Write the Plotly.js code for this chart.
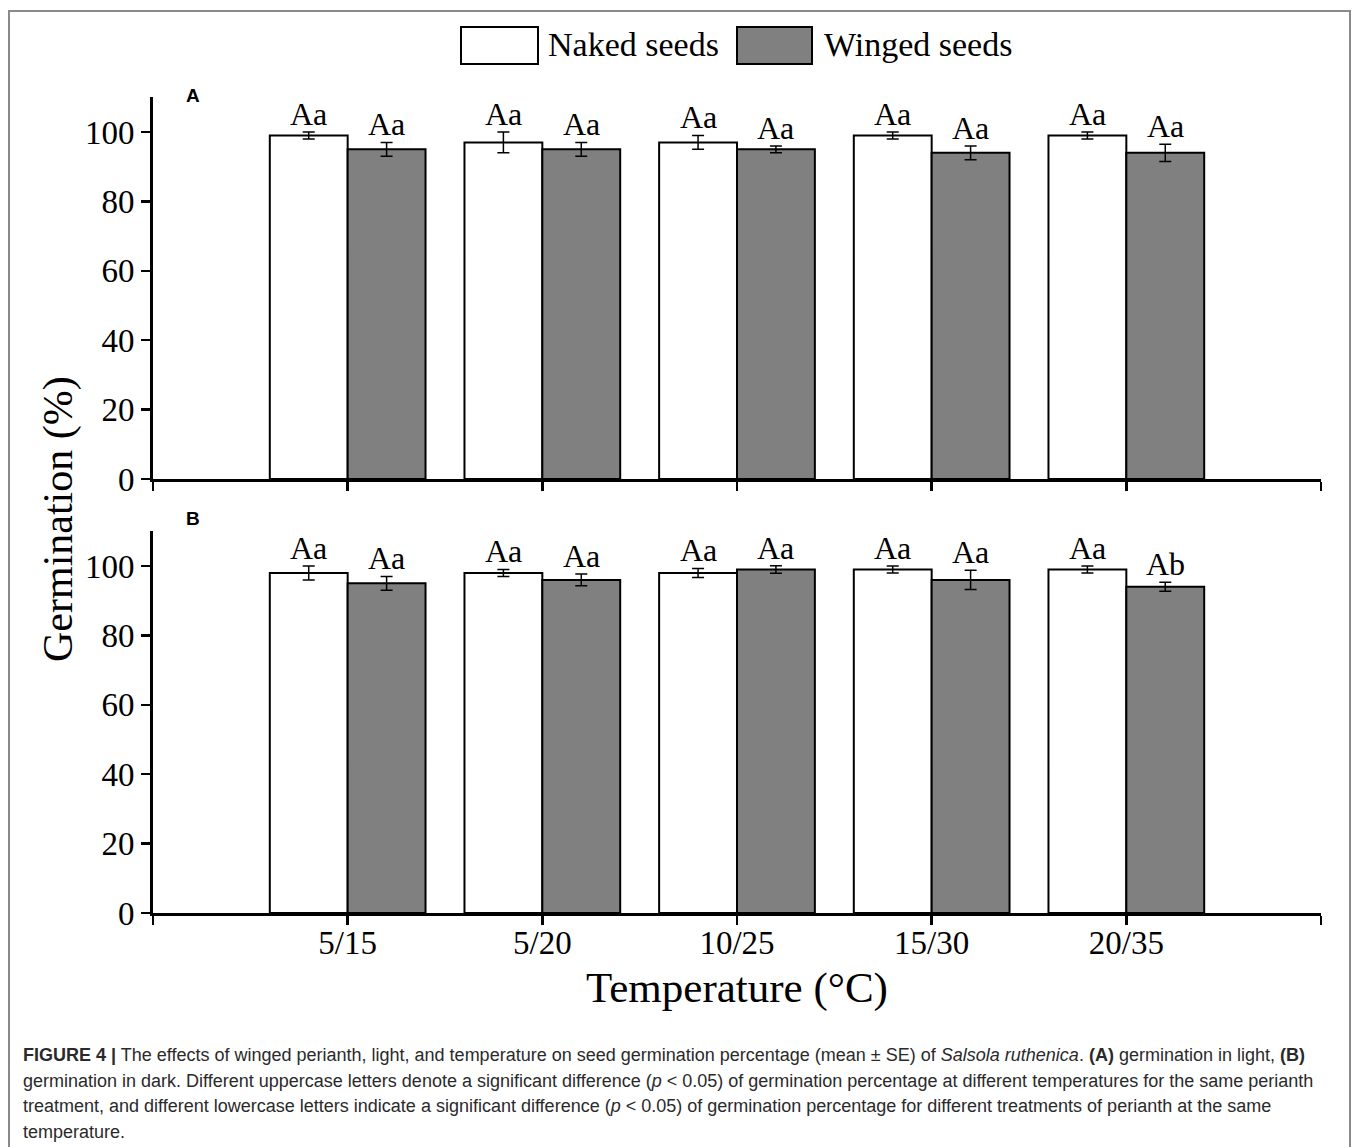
<!DOCTYPE html>
<html>
<head>
<meta charset="utf-8">
<script src="https://cdn.plot.ly/plotly-3.0.1.min.js"></script>
<style>
  html, body { margin: 0; padding: 0; background: #fff; }
  #frame { position: absolute; left: 8px; top: 10px; width: 1343px; height: 1150px;
           border: 2px solid #8a8a8a; border-bottom: none; box-sizing: border-box; }
  #chart { position: absolute; left: 0; top: 0; width: 1358px; height: 1147px; }
</style>
</head>
<body>
<div id="frame"></div>
<div id="chart"></div>
<script>
// ---- data ----
const categories = ['5/15', '5/20', '10/25', '15/30', '20/35'];

// Panel A: germination in light
const nakedLight      = [99, 97, 97, 99, 99];
const nakedLightErr   = [1, 3, 2, 1, 1];
const wingedLight     = [95, 95, 95, 94, 94];
const wingedLightErr  = [2, 2, 1, 2, 2.5];
const nakedLightLbl   = ['Aa', 'Aa', 'Aa', 'Aa', 'Aa'];
const wingedLightLbl  = ['Aa', 'Aa', 'Aa', 'Aa', 'Aa'];

// Panel B: germination in dark
const nakedDark       = [98, 98, 98, 99, 99];
const nakedDarkErr    = [2, 1, 1.3, 1, 1];
const wingedDark      = [95, 96, 99, 96, 94];
const wingedDarkErr   = [2, 1.7, 1.1, 2.8, 1.3];
const nakedDarkLbl    = ['Aa', 'Aa', 'Aa', 'Aa', 'Aa'];
const wingedDarkLbl   = ['Aa', 'Aa', 'Aa', 'Aa', 'Ab'];

const yTicks = [0, 20, 40, 60, 80, 100];
const seriesNames = ['Naked seeds', 'Winged seeds'];

// ---- build ----
const pos = categories.map((c, i) => i);
const W = 1358, H = 1147;
const px = v => v / W;          // pixel -> paper x
const py = v => (H - v) / H;    // pixel -> paper y

const serif = 'Liberation Serif, Times New Roman, serif';
const sans = 'Liberation Sans, Arial, sans-serif';
const nakedColor = '#ffffff', wingedColor = '#808080';

function barTrace(y, err, color, name, xa, ya) {
  return {
    type: 'bar', x: pos, y: y, name: name, xaxis: xa, yaxis: ya,
    marker: { color: color, line: { color: '#000', width: 2 } },
    error_y: { type: 'data', array: err, visible: true, color: '#000', thickness: 1.5, width: 6 },
    showlegend: false, hoverinfo: 'skip'
  };
}

const data = [
  barTrace(nakedLight, nakedLightErr, nakedColor, seriesNames[0], 'x', 'y'),
  barTrace(wingedLight, wingedLightErr, wingedColor, seriesNames[1], 'x', 'y'),
  barTrace(nakedDark, nakedDarkErr, nakedColor, seriesNames[0], 'x2', 'y2'),
  barTrace(wingedDark, wingedDarkErr, wingedColor, seriesNames[1], 'x2', 'y2')
];

const annotations = [];
function letters(vals, errs, lbls, offset, xr, yr) {
  vals.forEach((v, i) => {
    annotations.push({
      x: pos[i] + offset, y: v + errs[i], xref: xr, yref: yr,
      text: lbls[i], showarrow: false, yanchor: 'bottom', xanchor: 'center', yshift: -2,
      font: { family: serif, size: 32, color: '#000' }
    });
  });
}
letters(nakedLight, nakedLightErr, nakedLightLbl, -0.2, 'x', 'y');
letters(wingedLight, wingedLightErr, wingedLightLbl, 0.2, 'x', 'y');
letters(nakedDark, nakedDarkErr, nakedDarkLbl, -0.2, 'x2', 'y2');
letters(wingedDark, wingedDarkErr, wingedDarkLbl, 0.2, 'x2', 'y2');

function paperText(x, y, text, font, extra) {
  annotations.push(Object.assign({ x: px(x), y: py(y), xref: 'paper', yref: 'paper', text: text,
    showarrow: false, xanchor: 'center', yanchor: 'middle', font: font }, extra || {}));
}

// panel letters
paperText(193, 95, '<b>A</b>', { family: sans, size: 19, color: '#000' });
paperText(193, 518, '<b>B</b>', { family: sans, size: 19, color: '#000' });

// axis titles
paperText(58, 519, 'Germination (%)', { family: serif, size: 42, color: '#000' }, { textangle: -90 });
paperText(737, 988, 'Temperature (°C)', { family: serif, size: 43, color: '#000' });

// legend text
paperText(546, 45, seriesNames[0], { family: serif, size: 34, color: '#000' }, { xanchor: 'left' });
paperText(822, 45, seriesNames[1], { family: serif, size: 34, color: '#000' }, { xanchor: 'left' });

// caption
const captionLines = [
  '<b>FIGURE 4 |</b> The effects of winged perianth, light, and temperature on seed germination percentage (mean ± SE) of <i>Salsola ruthenica</i>. <b>(A)</b> germination in light, <b>(B)</b>',
  'germination in dark. Different uppercase letters denote a significant difference (<i>p</i> &lt; 0.05) of germination percentage at different temperatures for the same perianth',
  'treatment, and different lowercase letters indicate a significant difference (<i>p</i> &lt; 0.05) of germination percentage for different treatments of perianth at the same',
  'temperature.'
];
captionLines.forEach((t, i) => {
  paperText(21, 1055 + i * 25.7, t,
    { family: 'Liberation Sans, Arial, sans-serif', size: 18, color: '#2a2a2a' }, { xanchor: 'left' });
});

const shapes = [
  { type: 'rect', xref: 'paper', yref: 'paper', x0: px(461), x1: px(538), y0: py(64), y1: py(27),
    fillcolor: nakedColor, line: { color: '#000', width: 2 } },
  { type: 'rect', xref: 'paper', yref: 'paper', x0: px(737), x1: px(812), y0: py(64), y1: py(27),
    fillcolor: wingedColor, line: { color: '#000', width: 2 } }
];

const xDomain = [px(153), px(1321)];
const tickvalsX = [-1].concat(pos, [categories.length]);
const ticktextX = [''].concat(categories, ['']);

function xAxis(showLabels, anchor) {
  return {
    domain: xDomain, anchor: anchor, range: [-1, categories.length],
    tickmode: 'array', tickvals: tickvalsX, ticktext: ticktextX,
    showticklabels: showLabels, ticks: 'outside', ticklen: 9, tickwidth: 2.5, tickcolor: '#000',
    ticklabelstandoff: -11,
    showline: true, linewidth: 3, linecolor: '#000', showgrid: false, zeroline: false,
    tickfont: { family: serif, size: 33, color: '#000' }, fixedrange: true
  };
}
function yAxis(dom, anchor) {
  return {
    domain: dom, anchor: anchor, range: [0, 110],
    tickmode: 'array', tickvals: yTicks,
    ticks: 'outside', ticklen: 9, tickwidth: 2.5, tickcolor: '#000',
    showline: true, linewidth: 3, linecolor: '#000', showgrid: false, zeroline: false,
    tickfont: { family: serif, size: 33, color: '#000' }, fixedrange: true
  };
}

const layout = {
  width: W, height: H,
  margin: { l: 0, r: 0, t: 0, b: 0 },
  paper_bgcolor: 'rgba(0,0,0,0)', plot_bgcolor: 'rgba(0,0,0,0)',
  barmode: 'group', bargap: 0.2, bargroupgap: 0,
  showlegend: false,
  xaxis: xAxis(false, 'y'),
  yaxis: yAxis([py(479), py(479 - 110 * 3.47)], 'x'),
  xaxis2: Object.assign(xAxis(true, 'y2'), { matches: 'x' }),
  yaxis2: yAxis([py(913), py(913 - 110 * 3.47)], 'x2'),
  annotations: annotations,
  shapes: shapes
};

Plotly.newPlot('chart', data, layout, { displayModeBar: false, staticPlot: true });
</script>
</body>
</html>
